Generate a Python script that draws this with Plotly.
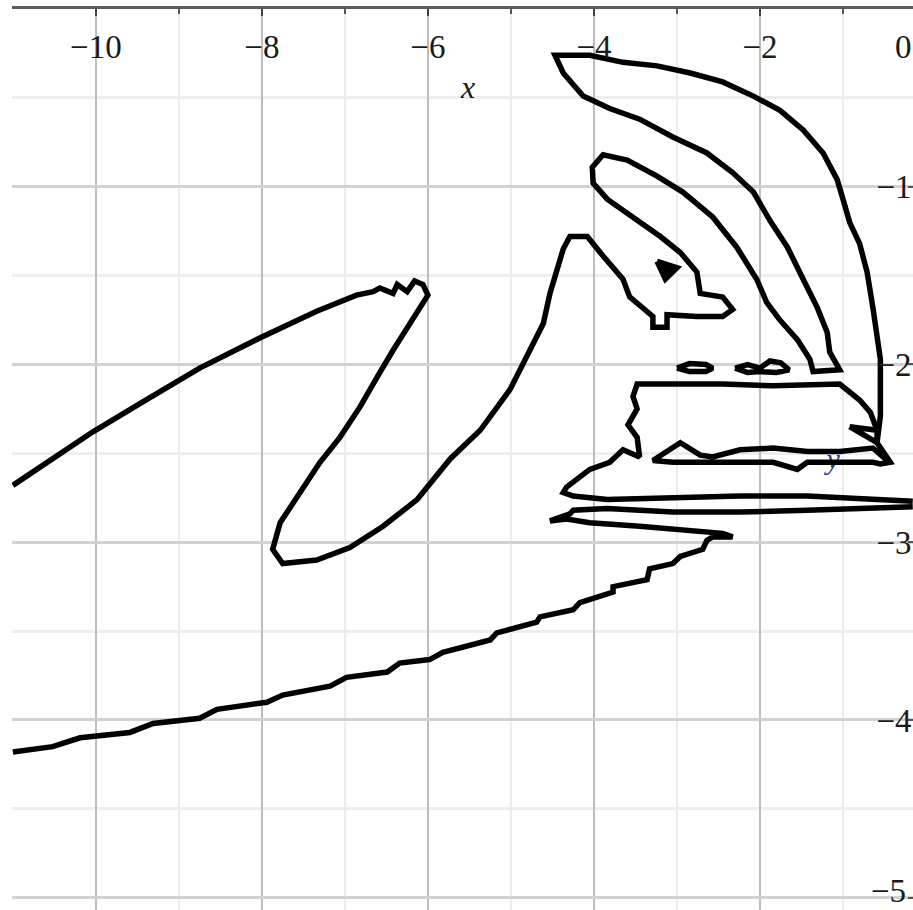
import plotly.graph_objects as go

# Implicit-curve traces (plot units).
# Main curve: wedge from the left edge, the peak, the two horns, the band under them.
MAIN_X = [
    -11.0, -10.55, -10.04, -9.47, -8.75, -8.02, -7.34, -6.86, -6.66, -6.58, -6.42, -6.37,
    -6.25, -6.16, -6.06, -6.0, -6.22, -6.42, -6.61, -6.82, -7.06, -7.30, -7.54, -7.78,
    -7.87, -7.75, -7.34, -6.94, -6.54, -6.13, -5.73, -5.37, -5.01, -4.77, -4.65, -4.61,
    -4.53, -4.45, -4.37, -4.29, -4.08, -3.89, -3.65, -3.57, -3.41, -3.29, -3.29, -3.12,
    -3.12, -2.76, -2.45, -2.33, -2.45, -2.72, -2.76, -2.96, -3.20, -3.53, -3.84, -4.01,
    -4.02, -3.89, -3.60, -3.24, -2.93, -2.57, -2.28, -2.04, -1.92, -1.76, -1.55, -1.40,
    -1.36, -1.04, -1.16, -1.19, -1.31, -1.48, -1.67, -1.88, -2.08, -2.33, -2.64, -3.05,
    -3.45, -3.81, -4.13, -4.37, -4.47, -4.05, -3.65, -3.24, -2.84, -2.45, -2.08, -1.76,
    -1.48, -1.24, -1.07, -1.00, -0.92, -0.80, -0.71, -0.64, -0.59, -0.55, -0.55, -0.55,
    -0.59, -0.43, -0.55, -0.64, -1.43, -1.55, -1.84, -2.45, -3.05, -3.29, -2.96, -2.72,
    -2.57, -2.24, -1.84, -1.43, -1.04, -0.64, -0.47,
]
MAIN_Y = [
    -2.68, -2.54, -2.38, -2.22, -2.02, -1.85, -1.70, -1.61, -1.59, -1.57, -1.60, -1.55,
    -1.59, -1.53, -1.55, -1.61, -1.77, -1.92, -2.07, -2.24, -2.41, -2.55, -2.72, -2.89,
    -3.04, -3.12, -3.10, -3.03, -2.91, -2.76, -2.53, -2.37, -2.14, -1.92, -1.82, -1.77,
    -1.60, -1.47, -1.35, -1.28, -1.28, -1.39, -1.52, -1.62, -1.68, -1.73, -1.79, -1.79,
    -1.72, -1.73, -1.73, -1.69, -1.62, -1.60, -1.48, -1.37, -1.28, -1.17, -1.07, -0.98,
    -0.89, -0.82, -0.85, -0.94, -1.03, -1.17, -1.34, -1.52, -1.65, -1.75, -1.86, -1.97,
    -2.04, -2.03, -1.93, -1.82, -1.68, -1.52, -1.34, -1.19, -1.03, -0.92, -0.81, -0.72,
    -0.62, -0.56, -0.49, -0.36, -0.26, -0.26, -0.30, -0.32, -0.36, -0.41, -0.49, -0.57,
    -0.68, -0.81, -0.96, -1.07, -1.20, -1.32, -1.48, -1.68, -1.82, -1.97, -2.10, -2.29,
    -2.44, -2.55, -2.56, -2.55, -2.55, -2.59, -2.55, -2.55, -2.55, -2.54, -2.44, -2.51,
    -2.52, -2.48, -2.47, -2.49, -2.49, -2.47, -2.54,
]

# Flat box with the zig-zag left side, entering from the right edge.
BOX_X = [
    -0.16, -0.64, -1.43, -2.24, -3.05, -3.84, -4.25, -4.37, -4.33, -4.05, -3.81, -3.65,
    -3.45, -3.48, -3.59, -3.48, -3.53, -3.48, -3.05, -2.45, -1.84, -1.04, -0.80, -0.67,
    -0.59,
]
BOX_Y = [
    -2.77, -2.76, -2.74, -2.74, -2.75, -2.76, -2.74, -2.72, -2.69, -2.59, -2.55, -2.48,
    -2.52, -2.41, -2.34, -2.25, -2.18, -2.11, -2.11, -2.11, -2.12, -2.11, -2.20, -2.27,
    -2.37,
]

# Lower branch: from the right edge, back out and down to the left edge.
LOWER_X = [
    -0.16, -0.64, -1.43, -2.24, -3.05, -3.84, -4.25, -4.29, -4.53, -4.33, -4.05, -3.45,
    -2.84, -2.45, -2.33, -2.57, -2.64, -2.69, -2.96, -3.05, -3.33, -3.36, -3.77, -3.77,
    -4.17, -4.25, -4.65, -4.69, -5.17, -5.25, -5.82, -5.98, -6.34, -6.49, -6.98, -7.18,
    -7.75, -7.94, -8.54, -8.75, -9.31, -9.59, -10.19, -10.52, -11.0,
]
LOWER_Y = [
    -2.80, -2.81, -2.82, -2.83, -2.83, -2.81, -2.82, -2.84, -2.88, -2.87, -2.89, -2.91,
    -2.93, -2.95, -2.97, -2.97, -2.99, -3.04, -3.08, -3.12, -3.15, -3.21, -3.25, -3.28,
    -3.34, -3.38, -3.42, -3.45, -3.51, -3.55, -3.62, -3.66, -3.68, -3.73, -3.76, -3.81,
    -3.86, -3.90, -3.94, -3.99, -4.02, -4.07, -4.10, -4.15, -4.18,
]

# Small closed pieces.
NOTCH_X = [-0.92, -0.59, -0.59, -0.92]
NOTCH_Y = [-2.35, -2.37, -2.44, -2.35]
DASH_A_X = [-3.0, -2.85, -2.65, -2.57, -2.65, -2.85, -3.0]
DASH_A_Y = [-2.02, -1.995, -2.0, -2.02, -2.04, -2.04, -2.02]
DASH_B_X = [-2.30, -2.15, -2.0, -1.88, -1.75, -1.65, -1.80, -2.0, -2.15, -2.30]
DASH_B_Y = [-2.02, -2.0, -2.02, -1.98, -1.99, -2.03, -2.045, -2.04, -2.045, -2.02]
SPECK_X = [-3.24, -3.0, -3.14, -3.24]
SPECK_Y = [-1.42, -1.456, -1.52, -1.42]

X_TICKS = [-10, -8, -6, -4, -2]
X_MINOR = [-11, -9, -7, -5, -3, -1]
Y_TICKS = [-1, -2, -3, -4, -5]
Y_MINOR = [-0.5, -1.5, -2.5, -3.5, -4.5]

X_RANGE = [-11.01, -0.157]
Y_RANGE = [-5.069, 0]

SERIF = "Liberation Serif"
INK = "black"


def curve(x, y, fill=False):
    trace = go.Scatter(
        x=x, y=y, mode="lines", line={"color": INK, "width": 5.5}, hoverinfo="skip"
    )
    if fill:
        trace.update(fill="toself", fillcolor=INK)
    return trace


def label(x, y, text, **kw):
    font = {"family": SERIF, "size": 33, "color": "#1a1a1a"}
    font.update(kw.pop("font", {}))
    return {"x": x, "y": y, "text": text, "showarrow": False, "font": font, **kw}


fig = go.Figure()
# the "y" axis label sits under the curves in the reference
fig.add_trace(
    go.Scatter(
        x=[-1.12], y=[-2.545], mode="text", text=["y"],
        textfont={"family": SERIF, "size": 30, "color": "#2a3f9a", "style": "italic"},
        hoverinfo="skip",
    )
)
for cx, cy in [
    (MAIN_X, MAIN_Y),
    (BOX_X, BOX_Y),
    (LOWER_X, LOWER_Y),
    (NOTCH_X, NOTCH_Y),
    (DASH_A_X, DASH_A_Y),
    (DASH_B_X, DASH_B_Y),
]:
    fig.add_trace(curve(cx, cy))
fig.add_trace(curve(SPECK_X, SPECK_Y, fill=True))

fig.update_layout(
    width=913,
    height=910,
    margin={"l": 12, "r": 0, "t": 9, "b": 0},
    paper_bgcolor="white",
    plot_bgcolor="white",
    showlegend=False,
    annotations=[
        label(-5.52, -0.437, "x", font={"size": 32, "style": "italic"}),
        label(-0.277, -0.212, "0"),
        # the bottom tick label runs past the edge, so plotly would drop it;
        # nudged up just enough to stay whole
        label(-0.22, Y_TICKS[-1], "\u22125", xanchor="right", yshift=7),
    ],
)
fig.update_xaxes(
    range=X_RANGE,
    side="top",
    showline=True,
    linecolor="#5a5a5a",
    linewidth=3,
    ticks="inside",
    ticklen=7,
    tickwidth=2,
    tickcolor="#444",
    tickvals=X_TICKS,
    ticklabelposition="inside",
    ticklabelstandoff=23,
    tickfont={"family": SERIF, "size": 33, "color": "#1a1a1a"},
    showgrid=True,
    gridcolor="#bdbdbd",
    gridwidth=2,
    zeroline=False,
    minor={"tickvals": X_MINOR, "ticks": "inside", "ticklen": 5, "tickcolor": "#555",
           "showgrid": True, "gridcolor": "#ececec", "gridwidth": 2},
)
fig.update_yaxes(
    range=Y_RANGE,
    side="right",
    showline=False,
    ticks="inside",
    ticklen=5,
    tickwidth=2,
    tickcolor="#555",
    tickvals=Y_TICKS,
    ticklabelposition="inside",
    tickfont={"family": SERIF, "size": 33, "color": "#1a1a1a"},
    showgrid=True,
    gridcolor="#d2d2d2",
    gridwidth=3,
    zeroline=False,
    minor={"tickvals": Y_MINOR, "showgrid": True, "gridcolor": "#ededed", "gridwidth": 3},
)

# drop the page's default body margin so the 913x910 figure fills the window exactly
fig.write_html(
    "out.html",
    config={"displayModeBar": False},
    post_script="document.body.style.margin = '0';",
)
